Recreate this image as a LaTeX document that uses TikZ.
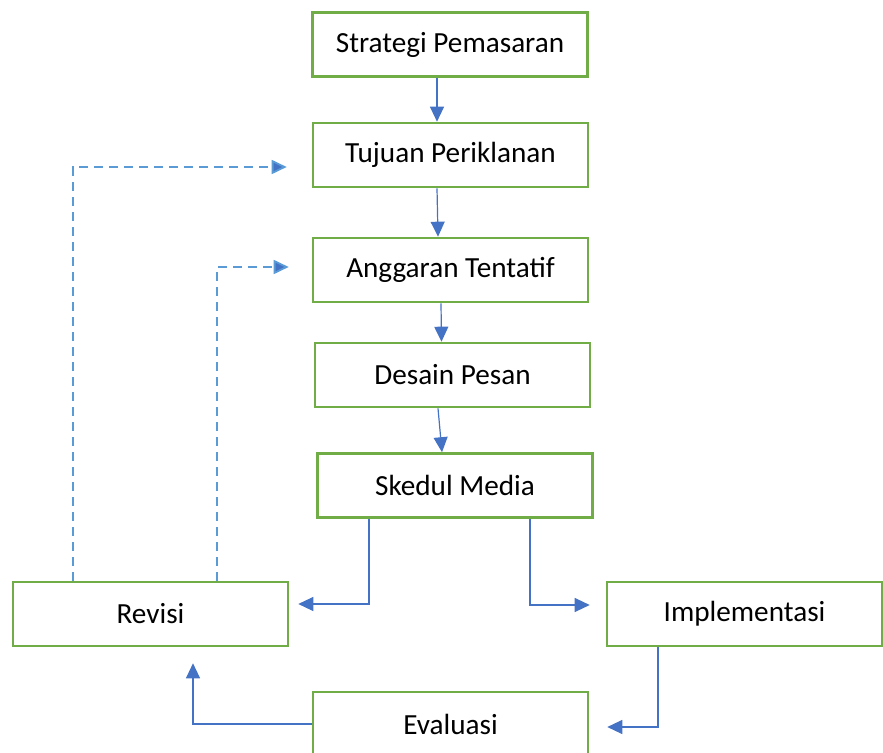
\documentclass[tikz,border=0pt]{standalone}
\usepackage{fontspec}
\setmainfont{Carlito}
\usepackage{tikz}
\usepackage{xcolor}
\usetikzlibrary{arrows.meta, positioning}
\definecolor{boxgreen}{RGB}{112, 173, 71}
\definecolor{arrowblue}{RGB}{68, 114, 196}
\definecolor{dashblue}{RGB}{91, 155, 213}

\begin{document}
\begin{tikzpicture}[
  x=0.5pt, y=-0.5pt,
  font=\fontsize{14.6}{17}\selectfont,
  stepbox/.style={
    draw=boxgreen,
    line width=1.3pt,
    fill=white,
    minimum width=137.5pt,
    minimum height=32pt,
    align=center,
  },
  flowarrow/.style={
    draw=arrowblue,
    line width=0.6pt,
    -{Triangle[length=7.5pt, width=7pt]},
  },
  backarrow/.style={
    draw=dashblue,
    line width=0.9pt,
    dash pattern=on 4.5pt off 3pt,
    -{Triangle[length=7.5pt, width=7pt, fill=arrowblue]},
  }
]
  \useasboundingbox (0,0) rectangle (883,753);

  % === MAIN COLUMN ===
  \node[stepbox] (strategi) at (450, 44.5) {Strategi Pemasaran};
  \node[stepbox] (tujuan) at (450.5, 155) {Tujuan Periklanan};
  \node[stepbox] (anggaran) at (450.5, 270) {Anggaran Tentatif};
  \node[stepbox] (desain) at (452.5, 375) {Desain Pesan};
  \node[stepbox] (skedul) at (455, 485.5) {Skedul Media};

  % === LOWER ROW ===
  \node[stepbox] (revisi) at (150.5, 614) {Revisi};
  \node[stepbox] (implementasi) at (744.5, 614) {Implementasi};
  \node[stepbox] (evaluasi) at (450.5, 724) {Evaluasi};

  % Arrows down the column
  \draw[flowarrow] ([xshift=-6.5pt]strategi.south) -- ([xshift=-6.75pt]tujuan.north);
  \draw[flowarrow] ([xshift=-6.75pt]tujuan.south) -- ([xshift=-6.25pt]anggaran.north);
  \draw[flowarrow] ([xshift=-4.75pt]anggaran.south) -- ([xshift=-5.5pt]desain.north);
  \draw[flowarrow] ([xshift=-7.25pt]desain.south) -- ([xshift=-6.5pt]skedul.north);

  % Skedul Media splits to Revisi and Implementasi
  \draw[flowarrow] ([xshift=-43pt]skedul.south) |- ([xshift=4.5pt, yshift=5pt]revisi.east);
  \draw[flowarrow] ([xshift=37.5pt]skedul.south) |- ([xshift=-8pt, yshift=4.5pt]implementasi.west);

  % Implementasi -> Evaluasi -> Revisi
  \draw[flowarrow] ([xshift=-43.25pt]implementasi.south) |- ([xshift=9pt, yshift=-1.5pt]evaluasi.east);
  \draw[flowarrow] (evaluasi.west) -| ([xshift=21.25pt, yshift=-8pt]revisi.south);

  % Dashed feedback from Revisi
  \draw[backarrow] ([xshift=-38.75pt]revisi.north) |- ([xshift=-12.5pt, yshift=-6pt]tujuan.west);
  \draw[backarrow] ([xshift=33.25pt]revisi.north) |- ([xshift=-11.5pt, yshift=1.5pt]anggaran.west);

\end{tikzpicture}
\end{document}
